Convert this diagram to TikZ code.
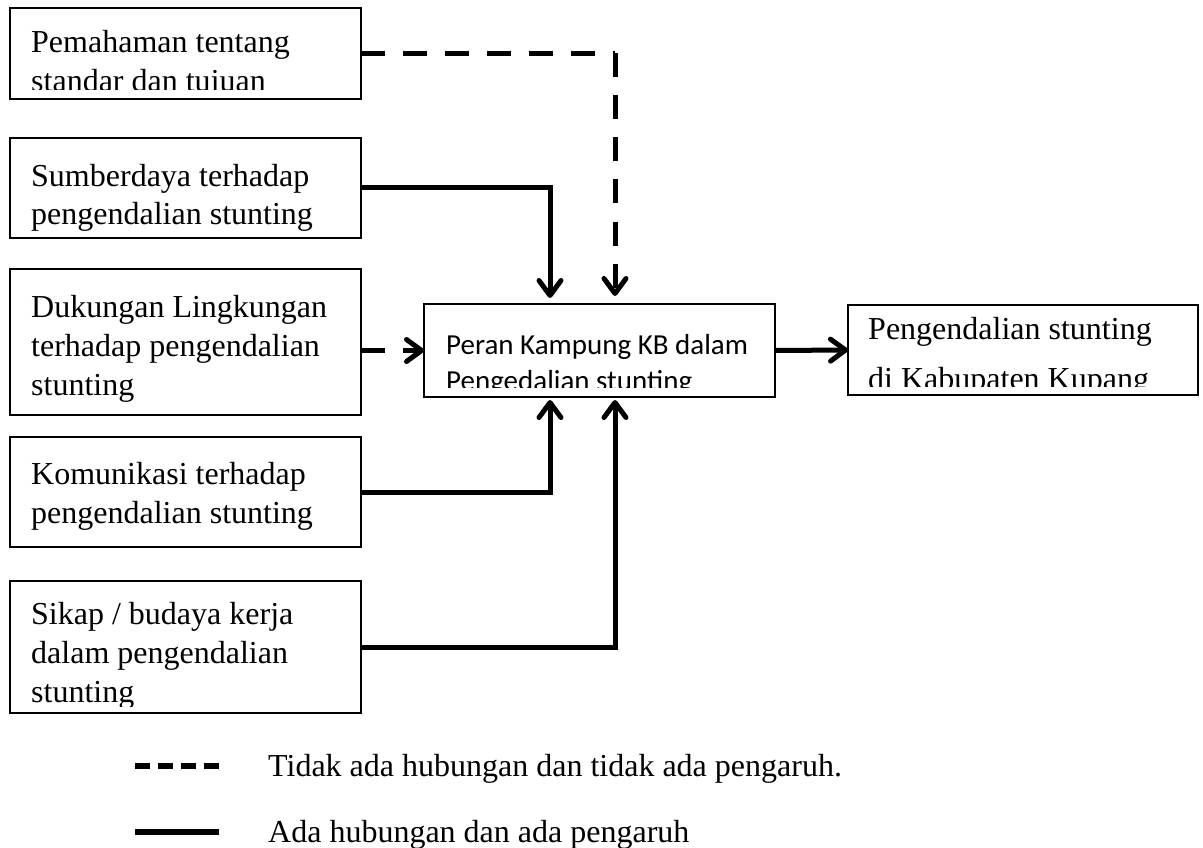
\documentclass[tikz,border=0pt]{standalone}
\usepackage{fontspec}
\setmainfont{Liberation Serif}
\newfontfamily\calibfont{Carlito}
\usetikzlibrary{arrows.meta,calc}
\begin{document}
\begin{tikzpicture}[x=1pt,y=-1pt,
  box/.style={draw, line width=1.3pt, anchor=north west, inner sep=0pt, outer sep=0pt},
  txt/.style={anchor=base west, inner sep=0pt, align=left, font=\fontsize{32}{39}\selectfont},
  rtxt/.style={anchor=base west, inner sep=0pt, align=left, font=\fontsize{32}{50}\selectfont},
  ctxt/.style={anchor=base west, inner sep=0pt, align=left, font=\calibfont\fontsize{29}{36}\selectfont},
  conn/.style={line width=5pt},
  dconn/.style={line width=5pt, dash pattern=on 24pt off 18pt},
  tip/.style={-{Straight Barb[length=15pt,width=22pt,round]}},
  legline/.style={line width=6pt},
]
\useasboundingbox (0,0) rectangle (1203,848);

% boxes
\node[box, minimum width=351pt, minimum height=91pt]  (b1) at (10,8) {};
\node[box, minimum width=351pt, minimum height=100pt] (b2) at (10,138) {};
\node[box, minimum width=351pt, minimum height=146pt] (b3) at (10,269) {};
\node[box, minimum width=351pt, minimum height=110pt] (b4) at (10,437) {};
\node[box, minimum width=351pt, minimum height=132pt] (b5) at (10,581) {};
\node[box, minimum width=351pt, minimum height=93pt]  (c)  at (424,304) {};
\node[box, minimum width=350pt, minimum height=90pt]  (r)  at (848,305) {};

% texts (anchored at the baseline of their last line; clipped like the original text frames)
\begin{scope}
  \clip (b1.north west) rectangle ($(b1.south east)+(0,-9)$);
  \node[txt] (t1) at (31,92) {Pemahaman tentang\\standar dan tujuan};
\end{scope}
\node[txt] (t2) at (31,225) {Sumberdaya terhadap\\pengendalian stunting};
\node[txt] (t3) at (31,395) {Dukungan Lingkungan\\terhadap pengendalian\\stunting};
\node[txt] (t4) at (31,523) {Komunikasi terhadap\\pengendalian stunting};
\begin{scope}
  \clip (b5.north west) rectangle ($(b5.south east)+(0,-7)$);
  \node[txt] (t5) at (31,702) {Sikap / budaya kerja\\dalam pengendalian\\stunting};
\end{scope}
\begin{scope}
  \clip (c.north west) rectangle ($(c.south east)+(0,-10)$);
  \node[ctxt] (tc) at (446,390) {Peran Kampung KB dalam\\Pengedalian stunting};
\end{scope}
\begin{scope}
  \clip (r.north west) rectangle ($(r.south east)+(0,-9)$);
  \node[rtxt] (tr) at (868,389) {Pengendalian stunting\\di Kabupaten Kupang};
\end{scope}

% connectors
\coordinate (k1) at ($(c.north west)+(191,0)$);
\coordinate (k1) at (b1.east -| k1);
\draw[dconn] (b1.east) -- (k1);
\draw[dconn, tip, shorten >=8pt] (k1) -- ($(c.north west)+(191,0)$);
\draw[conn, tip, shorten >=6pt] (b2.east) -| ($(c.north west)+(126,0)$);
\draw[dconn, tip] (b3.east |- c.west) -- (c.west);
\draw[conn, tip, shorten >=3pt] (b4.east) -| ($(c.south west)+(126,0)$);
\draw[conn, tip, shorten >=3pt] (b5.east) -| ($(c.south west)+(191,0)$);
\draw[conn, tip] (c.east) -- (r.west);

% legend
\coordinate (l1a) at (135,766);
\coordinate (l1b) at (219,766);
\coordinate (l2a) at (135,832);
\coordinate (l2b) at (219,832);
\draw[legline, dash pattern=on 15pt off 8pt] (l1a) -- (l1b);
\draw[legline] (l2a) -- (l2b);
\node[txt] (lg1) at (268,776) {Tidak ada hubungan dan tidak ada pengaruh.};
\node[txt] (lg2) at (268,842) {Ada hubungan dan ada pengaruh};
\end{tikzpicture}
\end{document}
